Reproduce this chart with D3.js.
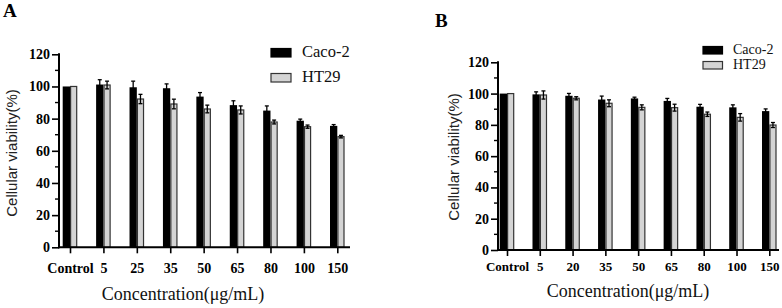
<!DOCTYPE html>
<html><head><meta charset="utf-8">
<script src="https://cdn.jsdelivr.net/npm/d3@7"></script>
<style>
html,body{margin:0;padding:0;background:#fff;}
svg{display:block;}
.serif{font-family:"Liberation Serif","Times New Roman",Times,serif;}
.sans{font-family:"Liberation Sans",Arial,Helvetica,sans-serif;}
</style></head>
<body>
<svg id="chart" width="782" height="308"></svg>
<script>
// ---- data ----
const categoriesA = ["Control","5","25","35","50","65","80","100","150"];
const cacoA = [100, 101.2, 99.5, 98.9, 93.7, 88.4, 85, 78.7, 75.5];
const cacoErrA = [0, 3, 3.8, 2.7, 2.5, 2.7, 2.9, 1, 0.8];
const ht29A = [100, 100.9, 92.2, 89.1, 86, 85.4, 77.9, 75, 68.8];
const ht29ErrA = [0, 2.4, 2.9, 3, 2.4, 2.5, 1.2, 1, 0.8];

const categoriesB = ["Control","5","20","35","50","65","80","100","150"];
const cacoB = [100, 99.5, 98.6, 96.2, 96.9, 95.3, 91.6, 91.2, 88.8];
const cacoErrB = [0, 1.6, 1.5, 2.2, 0.8, 1.6, 1.5, 1.6, 1.4];
const ht29B = [100, 99.1, 97, 93.8, 91.2, 91, 86.8, 84.8, 79.9];
const ht29ErrB = [0, 2.6, 1, 2.2, 1.6, 2.2, 1.4, 2.4, 1.6];

const yTicks = [0, 20, 40, 60, 80, 100, 120];
const seriesNames = ["Caco-2", "HT29"];
const panelLabels = ["A", "B"];
const xTitle = "Concentration(μg/mL)";
const yTitle = "Cellular viability(%)";

// ---- drawing ----
const svg = d3.select("#chart");
const serif = '"Liberation Serif", "Times New Roman", Times, serif';
const sans = '"Liberation Sans", Arial, Helvetica, sans-serif';

function drawPanel(p) {
  const g = svg.append("g");
  const y = d3.scaleLinear().domain([0, 120]).range([p.y0, p.y120]);
  const x = d3.scalePoint().domain(p.cats).range([p.xFirst, p.xLast]);
  const bw = p.barW;

  const rows = p.cats.map((c, i) => ({c, a: p.s1[i], ae: p.e1[i], b: p.s2[i], be: p.e2[i]}));
  g.selectAll(".b1").data(rows).join("rect")
    .attr("x", d => x(d.c) - bw).attr("width", bw)
    .attr("y", d => y(d.a)).attr("height", d => y(0) - y(d.a))
    .attr("fill", "#000");
  g.selectAll(".b2").data(rows).join("rect")
    .attr("x", d => x(d.c) + 0.6).attr("width", bw - 1.2)
    .attr("y", d => y(d.b)).attr("height", d => y(0) - y(d.b))
    .attr("fill", "#d4d4d4").attr("stroke", "#333").attr("stroke-width", 1.2);

  function errs(cls, key, ekey, off) {
    const eg = g.selectAll("." + cls).data(rows.filter(d => d[ekey] > 0)).join("g");
    eg.append("line")
      .attr("x1", d => x(d.c) + off).attr("x2", d => x(d.c) + off)
      .attr("y1", d => y(d[key] - d[ekey])).attr("y2", d => y(d[key] + d[ekey]))
      .attr("stroke", "#000").attr("stroke-width", 1.3);
    eg.append("line")
      .attr("x1", d => x(d.c) + off - 2).attr("x2", d => x(d.c) + off + 2)
      .attr("y1", d => y(d[key] + d[ekey])).attr("y2", d => y(d[key] + d[ekey]))
      .attr("stroke", "#000").attr("stroke-width", 1.3);
    eg.append("line")
      .attr("x1", d => x(d.c) + off - 2).attr("x2", d => x(d.c) + off + 2)
      .attr("y1", d => y(d[key] - d[ekey])).attr("y2", d => y(d[key] - d[ekey]))
      .attr("stroke", "#000").attr("stroke-width", 1.3);
  }
  errs("e1", "a", "ae", -bw / 2);
  errs("e2", "b", "be", bw / 2);

  // y axis
  const yAx = g.append("g").attr("transform", `translate(${p.axX},0)`)
    .call(d3.axisLeft(y).tickValues(yTicks).tickSize(7).tickPadding(2).tickFormat(d3.format("d")));
  yAx.attr("font-family", null).attr("font-size", null);
  yAx.select(".domain").remove();
  yAx.selectAll(".tick line").attr("stroke", "#000").attr("stroke-width", 1.6);
  yAx.selectAll("text").attr("class", "serif").style("font-family", serif).style("font-weight", "bold")
    .style("font-size", p.yTickFs + "px").attr("fill", "#000");
  g.selectAll(".minor").data(d3.range(10, 120, 20)).join("line")
    .attr("x1", p.axX - 4).attr("x2", p.axX)
    .attr("y1", d => y(d)).attr("y2", d => y(d))
    .attr("stroke", "#000").attr("stroke-width", 1.4);
  g.append("line").attr("x1", p.axX).attr("x2", p.axX)
    .attr("y1", y(0) + 1).attr("y2", y(120) - 1)
    .attr("stroke", "#000").attr("stroke-width", 2);

  // x axis
  const xAx = g.append("g").attr("transform", `translate(0,${y(0)})`)
    .call(d3.axisBottom(x).tickSize(6).tickPadding(p.xPad));
  xAx.attr("font-family", null).attr("font-size", null);
  xAx.select(".domain").remove();
  xAx.selectAll(".tick line").attr("stroke", "#000").attr("stroke-width", 1.6);
  xAx.selectAll("text").attr("class", "serif").style("font-family", serif).style("font-weight", "bold")
    .style("font-size", p.xTickFs + "px").attr("fill", "#000");
  g.append("line").attr("x1", p.axX - 1).attr("x2", p.axEnd)
    .attr("y1", y(0)).attr("y2", y(0))
    .attr("stroke", "#000").attr("stroke-width", 2);

  // titles
  g.append("text").attr("class", "serif").attr("x", p.xTitleX).attr("y", p.xTitleY)
    .attr("text-anchor", "middle").style("font-family", serif)
    .style("font-size", "18px").attr("fill", "#111").text(xTitle);
  g.append("text").attr("class", "sans").attr("transform", `translate(${p.yTitleX},${p.yTitleY}) rotate(-90)`)
    .attr("text-anchor", "middle").style("font-family", sans)
    .style("font-size", "15px").attr("fill", "#222").text(yTitle);

  // panel label
  g.append("text").attr("class", "serif").attr("x", p.labX).attr("y", p.labY)
    .style("font-family", serif).style("font-weight", "bold")
    .style("font-size", "19px").attr("fill", "#000").text(p.label);

  // legend
  seriesNames.forEach((n, i) => {
    const ly = p.legY + i * p.legGap;
    g.append("rect").attr("x", p.legX).attr("y", ly)
      .attr("width", p.legW).attr("height", p.legH)
      .attr("fill", i === 0 ? "#000" : "#d4d4d4")
      .attr("stroke", i === 0 ? "#000" : "#333").attr("stroke-width", 1.2);
    g.append("text").attr("class", "serif").attr("x", p.legTx).attr("y", ly + p.legH)
      .style("font-family", serif).style("font-size", p.legFs + "px").attr("fill", "#111").text(n);
  });
}

drawPanel({
  cats: categoriesA, s1: cacoA, e1: cacoErrA, s2: ht29A, e2: ht29ErrA, label: panelLabels[0],
  y0: 247.3, y120: 54.3, xFirst: 70, xLast: 337.3, barW: 7.3,
  axX: 59, axEnd: 350, yTickFs: 14, xTickFs: 14, xPad: 10,
  xTitleX: 183, xTitleY: 300, yTitleX: 17, yTitleY: 153,
  labX: 3, labY: 17,
  legX: 271, legY: 48.5, legW: 20, legH: 8.5, legGap: 25, legTx: 302, legFs: 16.5
});
drawPanel({
  cats: categoriesB, s1: cacoB, e1: cacoErrB, s2: ht29B, e2: ht29ErrB, label: panelLabels[1],
  y0: 250, y120: 62.3, xFirst: 507, xLast: 769.3, barW: 7.3,
  axX: 498, axEnd: 779, yTickFs: 14, xTickFs: 13, xPad: 6,
  xTitleX: 628, xTitleY: 297, yTitleX: 459, yTitleY: 157,
  labX: 435, labY: 27,
  legX: 703, legY: 46.5, legW: 19.5, legH: 7.5, legGap: 15, legTx: 733, legFs: 14
});
</script>
</body></html>
